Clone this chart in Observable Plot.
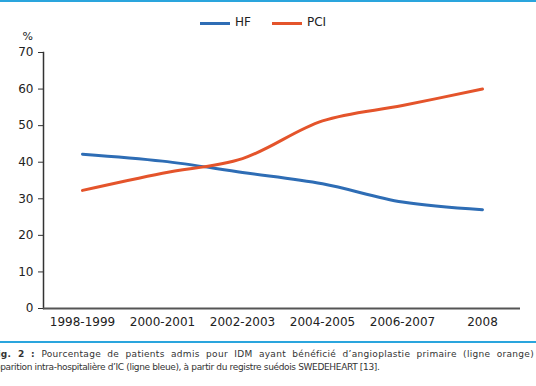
<!DOCTYPE html>
<html><head><meta charset="utf-8">
<script src="https://cdn.jsdelivr.net/npm/d3@7"></script>
<script src="https://cdn.jsdelivr.net/npm/@observablehq/plot@0.6"></script>
<style>
body{margin:0;background:#fff;width:536px;height:386px;overflow:hidden;font-family:"DejaVu Sans",sans-serif;}
#top{height:2px;background:#2aa5dd;}
#legend{position:relative;height:28px;font-size:12px;color:#222;}
.sw{position:absolute;top:20px;width:30px;height:3px;}
.lt{position:absolute;top:13px;}
#div{height:2px;background:#2aa5dd;margin-top:1px;}
#cap{font-size:9px;color:#333;line-height:13px;padding-top:5px;overflow:hidden;width:536px;}
.l1{white-space:nowrap;margin-left:-9px;width:543px;text-align:justify;text-align-last:justify;letter-spacing:0.3px;}
.l2{white-space:nowrap;margin-left:-11px;letter-spacing:-0.35px;}
</style></head>
<body>
<div id="top"></div>
<div id="legend"></div>
<div id="chart"></div>
<div id="div"></div>
<div id="cap">
<div class="l1"><b>Fig. 2 :</b> Pourcentage de patients admis pour IDM ayant bénéficié d’angioplastie primaire (ligne orange)</div>
<div class="l2">Apparition intra-hospitalière d’IC (ligne bleue), à partir du registre suédois SWEDEHEART [13].</div>
</div>
<script>
const periods = ["1998-1999","2000-2001","2002-2003","2004-2005","2006-2007","2008"];
const hf = [42.2, 40.3, 37.2, 34.1, 29.1, 27];
const pci = [32.3, 37, 41, 51.3, 55.5, 60];
const seriesNames = ["HF","PCI"];
const seriesColors = ["#2e6db5","#e4542b"];
const yTicks = [0,10,20,30,40,50,60,70];

const data = [];
periods.forEach((p,i)=>{
  data.push({period:p, series:"HF", value:hf[i]});
  data.push({period:p, series:"PCI", value:pci[i]});
});

// legend
const leg = document.getElementById("legend");
const legX = [200, 272];
seriesNames.forEach((s,i)=>{
  const sw = document.createElement("div");
  sw.className="sw"; sw.style.left=legX[i]+"px"; sw.style.background=seriesColors[i];
  leg.appendChild(sw);
  const t = document.createElement("div");
  t.className="lt"; t.style.left=(legX[i]+35)+"px"; t.textContent=s;
  leg.appendChild(t);
});

const chart = Plot.plot({
  width:536, height:310,
  marginTop:22, marginBottom:32, marginLeft:43, marginRight:16,
  style:{fontFamily:"DejaVu Sans, sans-serif", fontSize:"12px", color:"#222", background:"#fff"},
  x:{type:"point", domain:periods, padding:0.47, label:null},
  y:{domain:[0,70], label:null},
  color:{domain:seriesNames, range:seriesColors},
  marks:[
    Plot.axisY({ticks:yTicks, tickSize:5, tickPadding:5, label:null, stroke:"#333"}),
    Plot.axisX({tickSize:0, tickPadding:9, label:null}),
    Plot.frame({anchor:"left", stroke:"#333", strokeWidth:1.5}),
    Plot.ruleY([0], {stroke:"#555", strokeWidth:2}),
    Plot.text(["%"], {frameAnchor:"top-left", dx:-21, dy:-20, fontSize:11, fill:"#222"}),
    Plot.line(data, {x:"period", y:"value", stroke:"series", z:"series", strokeWidth:3, curve:"catmull-rom"})
  ]
});
document.getElementById("chart").appendChild(chart);
</script>
</body></html>
